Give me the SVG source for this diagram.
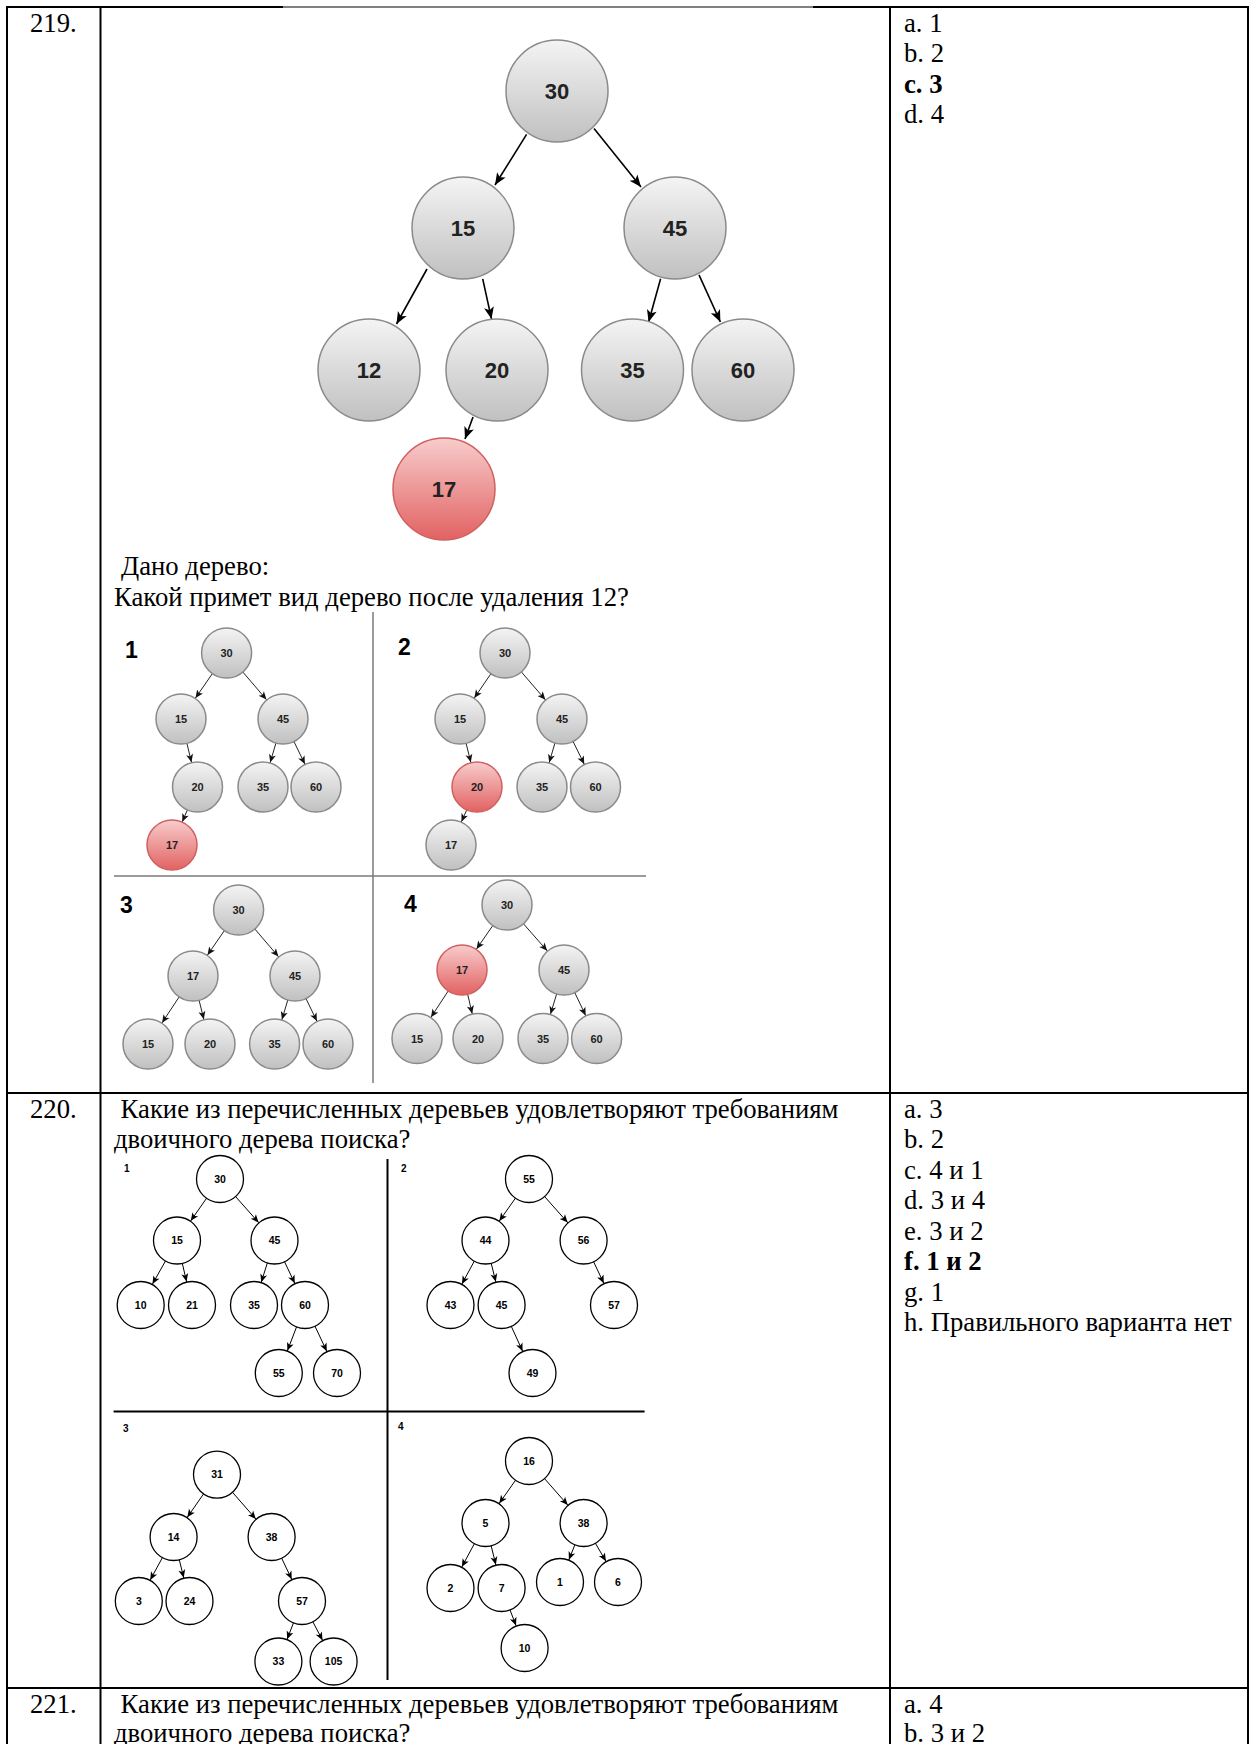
<svg xmlns="http://www.w3.org/2000/svg" width="1251" height="1744" viewBox="0 0 1251 1744">
<defs>
<linearGradient id="gGray" x1="0" y1="0" x2="0" y2="1"><stop offset="0" stop-color="#f4f4f4"/><stop offset="1" stop-color="#c0c0c0"/></linearGradient>
<linearGradient id="gRed" x1="0" y1="0" x2="0" y2="1"><stop offset="0" stop-color="#f8cccc"/><stop offset="1" stop-color="#e26262"/></linearGradient>
<marker id="aBig" markerUnits="userSpaceOnUse" markerWidth="14" markerHeight="12" refX="12" refY="5" orient="auto" overflow="visible"><path d="M0,0 L12,5 L0,10 L3,5 Z" fill="#000"/></marker>
<marker id="aSm" markerUnits="userSpaceOnUse" markerWidth="10" markerHeight="8" refX="33.5" refY="3.5" orient="auto" overflow="visible"><path d="M0,0 L8,3.5 L0,7 L2,3.5 Z" fill="#111"/></marker>
<marker id="aW" markerUnits="userSpaceOnUse" markerWidth="10" markerHeight="8" refX="32" refY="3.5" orient="auto" overflow="visible"><path d="M0,0 L8,3.5 L0,7 L2,3.5 Z" fill="#000"/></marker>
</defs>
<style>
.tbl{stroke:#000;stroke-width:2;fill:none}
.thin{stroke:#000;stroke-width:1;fill:none}
.t{font-family:"Liberation Serif","Times New Roman",serif;font-size:26.7px;fill:#000}
.b{font-weight:bold}
.ng circle{fill:url(#gGray);stroke:#8a8a8a;stroke-width:1.5}
.nr circle{fill:url(#gRed);stroke:#d06060;stroke-width:1.5}
.nw circle{fill:#fff;stroke:#000;stroke-width:1.3}
.L text{font-family:"Liberation Sans",Arial,sans-serif;font-weight:bold;font-size:22px;fill:#222;text-anchor:middle}
.S text{font-family:"Liberation Sans",Arial,sans-serif;font-weight:bold;font-size:11px;fill:#222;text-anchor:middle}
.W text{font-family:"Liberation Sans",Arial,sans-serif;font-weight:bold;font-size:10.5px;fill:#000;text-anchor:middle}
.q{font-family:"Liberation Sans",Arial,sans-serif;font-weight:bold;font-size:23px;fill:#000}
.qs{font-family:"Liberation Sans",Arial,sans-serif;font-weight:bold;font-size:10px;fill:#000}
.eb{stroke:#000;stroke-width:1.6;marker-end:url(#aBig)}
.es line{stroke:#222;stroke-width:1;marker-end:url(#aSm)}
.ew line{stroke:#000;stroke-width:1;marker-end:url(#aW)}
.div1{stroke:#7a7a7a;stroke-width:1.5}
.div2{stroke:#000;stroke-width:2}
</style>
<rect x="0" y="0" width="1251" height="1744" fill="#fff"/>

<g id="table">
<line class="tbl" x1="6" y1="7" x2="283" y2="7"/>
<line class="thin" x1="283" y1="7" x2="813" y2="7"/>
<line class="tbl" x1="813" y1="7" x2="1249" y2="7"/>
<line class="tbl" x1="7" y1="6" x2="7" y2="1744"/>
<line class="tbl" x1="100.5" y1="7" x2="100.5" y2="1744"/>
<line class="tbl" x1="890" y1="7" x2="890" y2="1744"/>
<line class="tbl" x1="1248" y1="6" x2="1248" y2="1744"/>
<line class="tbl" x1="6" y1="1093" x2="1249" y2="1093"/>
<line class="tbl" x1="6" y1="1688" x2="1249" y2="1688"/>
</g>

<g id="texts">
<text class="t" x="30" y="31.6">219.</text>
<text class="t" x="904" y="31.6">a. 1</text>
<text class="t" x="904" y="62">b. 2</text>
<text class="t b" x="904" y="92.6">c. 3</text>
<text class="t" x="904" y="123">d. 4</text>
<text class="t" x="121" y="575">Дано дерево:</text>
<text class="t" x="114" y="605.5">Какой примет вид дерево после удаления 12?</text>

<text class="t" x="30" y="1117.6">220.</text>
<text class="t" x="120.6" y="1117.6">Какие из перечисленных деревьев удовлетворяют требованиям</text>
<text class="t" x="114" y="1148">двоичного дерева поиска?</text>
<text class="t" x="904" y="1117.6">a. 3</text>
<text class="t" x="904" y="1148">b. 2</text>
<text class="t" x="904" y="1178.6">c. 4 и 1</text>
<text class="t" x="904" y="1209">d. 3 и 4</text>
<text class="t" x="904" y="1239.6">e. 3 и 2</text>
<text class="t b" x="904" y="1270">f. 1 и 2</text>
<text class="t" x="904" y="1300.6">g. 1</text>
<text class="t" x="904" y="1331">h. Правильного варианта нет</text>

<text class="t" x="30" y="1712.6">221.</text>
<text class="t" x="120.6" y="1712.6">Какие из перечисленных деревьев удовлетворяют требованиям</text>
<text class="t" x="114" y="1742">двоичного дерева поиска?</text>
<text class="t" x="904" y="1712.6">a. 4</text>
<text class="t" x="904" y="1742">b. 3 и 2</text>
</g>

<g id="dividers">
<line class="div1" x1="373" y1="612" x2="373" y2="1083"/>
<line class="div1" x1="114" y1="876" x2="646" y2="876"/>
<line class="div2" x1="387.5" y1="1159" x2="387.5" y2="1680"/>
<line class="div2" x1="113.6" y1="1411.5" x2="644.6" y2="1411.5"/>
<text class="q" x="125" y="658">1</text>
<text class="q" x="398" y="655">2</text>
<text class="q" x="120" y="913">3</text>
<text class="q" x="404" y="912">4</text>
<text class="qs" x="124" y="1172">1</text>
<text class="qs" x="401" y="1172">2</text>
<text class="qs" x="123" y="1432">3</text>
<text class="qs" x="398" y="1430">4</text>
</g>

<g id="connectors">
<g id="c219main">
<line class="eb" x1="526.6" y1="134.4" x2="495" y2="185"/>
<line class="eb" x1="594" y1="128.5" x2="641" y2="187"/>
<line class="eb" x1="427" y1="269" x2="396.5" y2="324"/>
<line class="eb" x1="482.7" y1="278.8" x2="491.5" y2="319"/>
<line class="eb" x1="660.6" y1="278.8" x2="648.6" y2="322"/>
<line class="eb" x1="699" y1="274.8" x2="720.4" y2="322"/>
<line class="eb" x1="473" y1="417" x2="465" y2="439"/>
</g>
<g id="c219q" class="es">
<line x1="226.6" y1="653" x2="181" y2="719"/>
<line x1="226.6" y1="653" x2="283" y2="719"/>
<line x1="181" y1="719" x2="197.5" y2="787"/>
<line x1="283" y1="719" x2="263" y2="787"/>
<line x1="283" y1="719" x2="316" y2="787"/>
<line x1="197.5" y1="787" x2="172" y2="845"/>
<line x1="505" y1="653" x2="460" y2="719"/>
<line x1="505" y1="653" x2="562" y2="719"/>
<line x1="460" y1="719" x2="477" y2="787"/>
<line x1="562" y1="719" x2="542" y2="787"/>
<line x1="562" y1="719" x2="595.5" y2="787"/>
<line x1="477" y1="787" x2="451" y2="845"/>
<line x1="238.6" y1="910" x2="193" y2="976"/>
<line x1="238.6" y1="910" x2="295" y2="976"/>
<line x1="193" y1="976" x2="148" y2="1044"/>
<line x1="193" y1="976" x2="210" y2="1044"/>
<line x1="295" y1="976" x2="274.6" y2="1044"/>
<line x1="295" y1="976" x2="328" y2="1044"/>
<line x1="507" y1="905" x2="462" y2="970"/>
<line x1="507" y1="905" x2="564" y2="970"/>
<line x1="462" y1="970" x2="417" y2="1038.5"/>
<line x1="462" y1="970" x2="478" y2="1038.5"/>
<line x1="564" y1="970" x2="543" y2="1038.5"/>
<line x1="564" y1="970" x2="596.6" y2="1038.5"/>
</g>
<g id="c220" class="ew">
<line x1="220" y1="1179" x2="177" y2="1240.5"/>
<line x1="220" y1="1179" x2="274.5" y2="1240.5"/>
<line x1="177" y1="1240.5" x2="140.7" y2="1305"/>
<line x1="177" y1="1240.5" x2="192" y2="1305"/>
<line x1="274.5" y1="1240.5" x2="254" y2="1305"/>
<line x1="274.5" y1="1240.5" x2="305" y2="1305"/>
<line x1="305" y1="1305" x2="278.8" y2="1373"/>
<line x1="305" y1="1305" x2="337" y2="1373"/>
<line x1="529" y1="1179" x2="485.5" y2="1240.5"/>
<line x1="529" y1="1179" x2="583.6" y2="1240.5"/>
<line x1="485.5" y1="1240.5" x2="450.5" y2="1305"/>
<line x1="485.5" y1="1240.5" x2="501.6" y2="1305"/>
<line x1="583.6" y1="1240.5" x2="614" y2="1305"/>
<line x1="501.6" y1="1305" x2="532.5" y2="1373"/>
<line x1="217" y1="1474.6" x2="173.6" y2="1537"/>
<line x1="217" y1="1474.6" x2="271.6" y2="1537"/>
<line x1="173.6" y1="1537" x2="138.8" y2="1601"/>
<line x1="173.6" y1="1537" x2="189.5" y2="1601"/>
<line x1="271.6" y1="1537" x2="302" y2="1601"/>
<line x1="302" y1="1601" x2="278.4" y2="1661.5"/>
<line x1="302" y1="1601" x2="333.6" y2="1661.5"/>
<line x1="529" y1="1461" x2="485.5" y2="1523"/>
<line x1="529" y1="1461" x2="583.6" y2="1523"/>
<line x1="485.5" y1="1523" x2="450.5" y2="1588"/>
<line x1="485.5" y1="1523" x2="501.6" y2="1588"/>
<line x1="583.6" y1="1523" x2="560" y2="1582"/>
<line x1="583.6" y1="1523" x2="618" y2="1582"/>
<line x1="501.6" y1="1588" x2="524.6" y2="1648"/>
</g>
</g>

<g id="nodes219main" class="L">
<g id="m30" class="ng"><circle cx="557" cy="91" r="51"/><text x="557" y="99">30</text></g>
<g id="m15" class="ng"><circle cx="463" cy="228" r="51"/><text x="463" y="236">15</text></g>
<g id="m45" class="ng"><circle cx="675" cy="228" r="51"/><text x="675" y="236">45</text></g>
<g id="m12" class="ng"><circle cx="369" cy="370" r="51"/><text x="369" y="378">12</text></g>
<g id="m20" class="ng"><circle cx="497" cy="370" r="51"/><text x="497" y="378">20</text></g>
<g id="m35" class="ng"><circle cx="632.5" cy="370" r="51"/><text x="632.5" y="378">35</text></g>
<g id="m60" class="ng"><circle cx="743" cy="370" r="51"/><text x="743" y="378">60</text></g>
<g id="m17" class="nr"><circle cx="444" cy="489" r="51"/><text x="444" y="497">17</text></g>
</g>

<g id="nodes219opts" class="S">
<g id="a30" class="ng"><circle cx="226.6" cy="653" r="25"/><text x="226.6" y="657">30</text></g>
<g id="a15" class="ng"><circle cx="181" cy="719" r="25"/><text x="181" y="723">15</text></g>
<g id="a45" class="ng"><circle cx="283" cy="719" r="25"/><text x="283" y="723">45</text></g>
<g id="a20" class="ng"><circle cx="197.5" cy="787" r="25"/><text x="197.5" y="791">20</text></g>
<g id="a35" class="ng"><circle cx="263" cy="787" r="25"/><text x="263" y="791">35</text></g>
<g id="a60" class="ng"><circle cx="316" cy="787" r="25"/><text x="316" y="791">60</text></g>
<g id="a17" class="nr"><circle cx="172" cy="845" r="25"/><text x="172" y="849">17</text></g>

<g id="b30" class="ng"><circle cx="505" cy="653" r="25"/><text x="505" y="657">30</text></g>
<g id="b15" class="ng"><circle cx="460" cy="719" r="25"/><text x="460" y="723">15</text></g>
<g id="b45" class="ng"><circle cx="562" cy="719" r="25"/><text x="562" y="723">45</text></g>
<g id="b20" class="nr"><circle cx="477" cy="787" r="25"/><text x="477" y="791">20</text></g>
<g id="b35" class="ng"><circle cx="542" cy="787" r="25"/><text x="542" y="791">35</text></g>
<g id="b60" class="ng"><circle cx="595.5" cy="787" r="25"/><text x="595.5" y="791">60</text></g>
<g id="b17" class="ng"><circle cx="451" cy="845" r="25"/><text x="451" y="849">17</text></g>

<g id="c30" class="ng"><circle cx="238.6" cy="910" r="25"/><text x="238.6" y="914">30</text></g>
<g id="c17" class="ng"><circle cx="193" cy="976" r="25"/><text x="193" y="980">17</text></g>
<g id="c45" class="ng"><circle cx="295" cy="976" r="25"/><text x="295" y="980">45</text></g>
<g id="c15" class="ng"><circle cx="148" cy="1044" r="25"/><text x="148" y="1048">15</text></g>
<g id="c20" class="ng"><circle cx="210" cy="1044" r="25"/><text x="210" y="1048">20</text></g>
<g id="c35" class="ng"><circle cx="274.6" cy="1044" r="25"/><text x="274.6" y="1048">35</text></g>
<g id="c60" class="ng"><circle cx="328" cy="1044" r="25"/><text x="328" y="1048">60</text></g>

<g id="d30" class="ng"><circle cx="507" cy="905" r="25"/><text x="507" y="909">30</text></g>
<g id="d17" class="nr"><circle cx="462" cy="970" r="25"/><text x="462" y="974">17</text></g>
<g id="d45" class="ng"><circle cx="564" cy="970" r="25"/><text x="564" y="974">45</text></g>
<g id="d15" class="ng"><circle cx="417" cy="1038.5" r="25"/><text x="417" y="1042.5">15</text></g>
<g id="d20" class="ng"><circle cx="478" cy="1038.5" r="25"/><text x="478" y="1042.5">20</text></g>
<g id="d35" class="ng"><circle cx="543" cy="1038.5" r="25"/><text x="543" y="1042.5">35</text></g>
<g id="d60" class="ng"><circle cx="596.6" cy="1038.5" r="25"/><text x="596.6" y="1042.5">60</text></g>
</g>

<g id="nodes220" class="W">
<g id="e30" class="nw"><circle cx="220" cy="1179" r="23.5"/><text x="220" y="1182.8">30</text></g>
<g id="e15" class="nw"><circle cx="177" cy="1240.5" r="23.5"/><text x="177" y="1244.3">15</text></g>
<g id="e45" class="nw"><circle cx="274.5" cy="1240.5" r="23.5"/><text x="274.5" y="1244.3">45</text></g>
<g id="e10" class="nw"><circle cx="140.7" cy="1305" r="23.5"/><text x="140.7" y="1308.8">10</text></g>
<g id="e21" class="nw"><circle cx="192" cy="1305" r="23.5"/><text x="192" y="1308.8">21</text></g>
<g id="e35" class="nw"><circle cx="254" cy="1305" r="23.5"/><text x="254" y="1308.8">35</text></g>
<g id="e60" class="nw"><circle cx="305" cy="1305" r="23.5"/><text x="305" y="1308.8">60</text></g>
<g id="e55" class="nw"><circle cx="278.8" cy="1373" r="23.5"/><text x="278.8" y="1376.8">55</text></g>
<g id="e70" class="nw"><circle cx="337" cy="1373" r="23.5"/><text x="337" y="1376.8">70</text></g>

<g id="f55" class="nw"><circle cx="529" cy="1179" r="23.5"/><text x="529" y="1182.8">55</text></g>
<g id="f44" class="nw"><circle cx="485.5" cy="1240.5" r="23.5"/><text x="485.5" y="1244.3">44</text></g>
<g id="f56" class="nw"><circle cx="583.6" cy="1240.5" r="23.5"/><text x="583.6" y="1244.3">56</text></g>
<g id="f43" class="nw"><circle cx="450.5" cy="1305" r="23.5"/><text x="450.5" y="1308.8">43</text></g>
<g id="f45" class="nw"><circle cx="501.6" cy="1305" r="23.5"/><text x="501.6" y="1308.8">45</text></g>
<g id="f57" class="nw"><circle cx="614" cy="1305" r="23.5"/><text x="614" y="1308.8">57</text></g>
<g id="f49" class="nw"><circle cx="532.5" cy="1373" r="23.5"/><text x="532.5" y="1376.8">49</text></g>

<g id="g31" class="nw"><circle cx="217" cy="1474.6" r="23.5"/><text x="217" y="1478.4">31</text></g>
<g id="g14" class="nw"><circle cx="173.6" cy="1537" r="23.5"/><text x="173.6" y="1540.8">14</text></g>
<g id="g38" class="nw"><circle cx="271.6" cy="1537" r="23.5"/><text x="271.6" y="1540.8">38</text></g>
<g id="g3" class="nw"><circle cx="138.8" cy="1601" r="23.5"/><text x="138.8" y="1604.8">3</text></g>
<g id="g24" class="nw"><circle cx="189.5" cy="1601" r="23.5"/><text x="189.5" y="1604.8">24</text></g>
<g id="g57" class="nw"><circle cx="302" cy="1601" r="23.5"/><text x="302" y="1604.8">57</text></g>
<g id="g33" class="nw"><circle cx="278.4" cy="1661.5" r="23.5"/><text x="278.4" y="1665.3">33</text></g>
<g id="g105" class="nw"><circle cx="333.6" cy="1661.5" r="23.5"/><text x="333.6" y="1665.3">105</text></g>

<g id="h16" class="nw"><circle cx="529" cy="1461" r="23.5"/><text x="529" y="1464.8">16</text></g>
<g id="h5" class="nw"><circle cx="485.5" cy="1523" r="23.5"/><text x="485.5" y="1526.8">5</text></g>
<g id="h38" class="nw"><circle cx="583.6" cy="1523" r="23.5"/><text x="583.6" y="1526.8">38</text></g>
<g id="h2" class="nw"><circle cx="450.5" cy="1588" r="23.5"/><text x="450.5" y="1591.8">2</text></g>
<g id="h7" class="nw"><circle cx="501.6" cy="1588" r="23.5"/><text x="501.6" y="1591.8">7</text></g>
<g id="h1" class="nw"><circle cx="560" cy="1582" r="23.5"/><text x="560" y="1585.8">1</text></g>
<g id="h6" class="nw"><circle cx="618" cy="1582" r="23.5"/><text x="618" y="1585.8">6</text></g>
<g id="h10" class="nw"><circle cx="524.6" cy="1648" r="23.5"/><text x="524.6" y="1651.8">10</text></g>
</g>
</svg>
